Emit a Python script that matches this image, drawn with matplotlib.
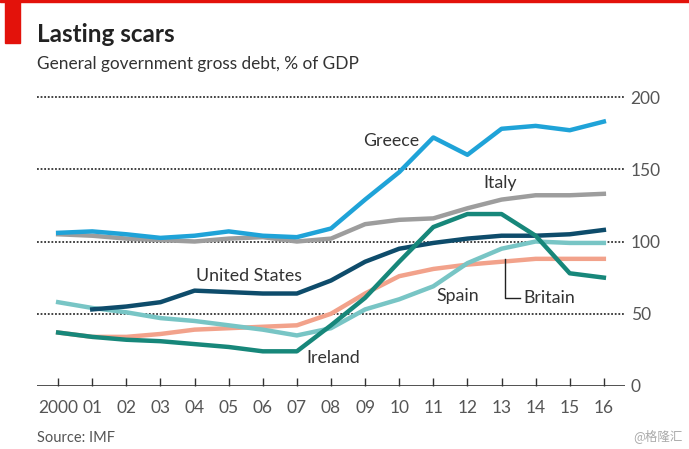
import matplotlib.pyplot as plt
from matplotlib.patches import Rectangle

plt.rcParams['font.family'] = ['Lato', 'DejaVu Sans']

years = list(range(2000, 2017))
tick_labels = ['2000', '01', '02', '03', '04', '05', '06', '07', '08',
               '09', '10', '11', '12', '13', '14', '15', '16']

greece = [106, 107, 105, 102.5, 104, 107, 104, 103, 109, 129, 148, 172, 160, 178, 180, 177, 183]
italy = [105, 104, 102, 101, 100, 102, 103, 100, 102, 112, 115, 116, 123, 129, 132, 132, 133]
us_years = years[1:]
united_states = [53, 55, 58, 66, 65, 64, 64, 73, 86, 95, 99, 102, 104, 104, 105, 108]
ireland = [37, 34, 32, 31, 29, 27, 24, 24, 42, 61, 86, 110, 119, 119, 104, 78, 75]
spain = [58, 54, 51, 47, 45, 42, 39, 35, 40, 53, 60, 69, 85, 95, 100, 99, 99]
britain = [37, 34, 34, 36, 39, 40, 41, 42, 50, 64, 76, 81, 84, 86, 88, 88, 88]

fig = plt.figure(figsize=(6.89, 4.49), dpi=100)
ax = fig.add_axes([37 / 689, 1 - 386 / 449, 588 / 689, 289 / 449])

# red marker bar and top rule
fig.patches.append(Rectangle((5 / 689, 1 - 43 / 449), 15 / 689, 43 / 449,
                             transform=fig.transFigure, color='#e3120b'))
fig.patches.append(Rectangle((0, 1 - 1.5 / 449), 1, 1.5 / 449,
                             transform=fig.transFigure, color='#e3120b'))

# gridlines
for v in [50, 100, 150, 200]:
    ax.axhline(v, color='#333333', lw=1.3, ls=(0, (1, 1)), zorder=1, clip_on=False)
ax.axhline(0, color='#333333', lw=1.2, zorder=1)

lw = 3.2
ax.plot(years, italy, color='#9d9d9d', lw=lw, zorder=3)
ax.plot(years, greece, color='#1fa3d8', lw=lw, zorder=4)
ax.plot(years, britain, color='#f2a28b', lw=lw, zorder=3)
ax.plot(years, spain, color='#78c5c5', lw=lw, zorder=3)
ax.plot(us_years, united_states, color='#0e4c6b', lw=lw, zorder=4)
ax.plot(years, ireland, color='#17877a', lw=lw, zorder=5)

ax.set_xlim(1999.38, 2016.62)
ax.set_ylim(0, 200)
for s in ax.spines.values():
    s.set_visible(False)

ax.set_xticks(years)
ax.set_xticklabels(tick_labels)
ax.tick_params(axis='x', direction='in', length=6, width=1, color='#333333',
               labelsize=12.5, labelcolor='#555555', pad=10)
ax.set_yticks([0, 50, 100, 150, 200])
ax.yaxis.tick_right()
ax.tick_params(axis='y', length=0, labelsize=12.5, labelcolor='#555555', pad=4)

txt = dict(fontsize=12.8, color='#333333', va='center', ha='left')
ax.text(2008.94, 169.6, 'Greece', **txt)
ax.text(2012.48, 140.5, 'Italy', **txt)
ax.text(2004.04, 76, 'United States', **txt)
ax.text(2011.1, 62.3, 'Spain', **txt)
ax.text(2013.63, 61, 'Britain', **txt)
ax.text(2007.27, 19.4, 'Ireland', **txt)
ax.plot([2013.1, 2013.1, 2013.55], [87.9, 61, 61], color='#222222', lw=1, zorder=6)

fig.text(37 / 689, 1 - 34 / 449, 'Lasting scars', fontsize=17.5, fontweight='bold',
         color='#222222', va='center')
fig.text(37 / 689, 1 - 64 / 449, 'General government gross debt, % of GDP',
         fontsize=12.4, color='#333333', va='center')
fig.text(37 / 689, 1 - 438 / 449, 'Source: IMF', fontsize=10.5, color='#555555', va='center')
fig.text(683 / 689, 1 - 436 / 449, '@格隆汇', fontsize=9, color='#aaaaaa', va='center',
         ha='right', family=['Noto Sans CJK SC', 'DejaVu Sans'])

fig.savefig('out.png', dpi=100)
